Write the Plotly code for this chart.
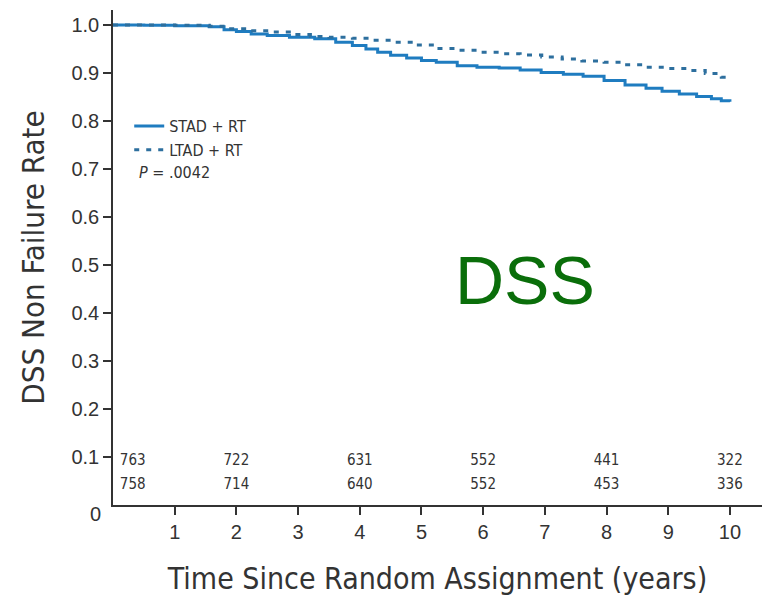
import plotly.graph_objects as go

# ---- data ----
stad_t = [0, 0.5, 1.0, 1.56, 1.8, 2.0, 2.24, 2.5, 2.86, 3.27, 3.61, 3.88, 4.1, 4.29, 4.5, 4.76,
          5.0, 5.24, 5.58, 5.9, 6.26, 6.6, 6.94, 7.3, 7.62, 7.96, 8.3, 8.64, 8.9, 9.18, 9.46,
          9.7, 9.86, 10.0]
stad_v = [1.0, 0.999, 0.998, 0.996, 0.99, 0.986, 0.981, 0.978, 0.974, 0.971, 0.964, 0.957, 0.950,
          0.943, 0.937, 0.931, 0.926, 0.922, 0.915, 0.912, 0.910, 0.906, 0.901, 0.897, 0.893,
          0.884, 0.875, 0.868, 0.862, 0.856, 0.851, 0.846, 0.842, 0.840]
ltad_t = [0, 0.5, 1.0, 1.56, 1.84, 2.2, 2.52, 2.9, 3.2, 3.5, 3.88, 4.2, 4.56, 4.9, 5.24, 5.6,
          5.92, 6.3, 6.6, 6.95, 7.28, 7.6, 7.96, 8.3, 8.64, 9.0, 9.32, 9.6, 9.86, 10.0]
ltad_v = [1.0, 1.0, 0.999, 0.997, 0.992, 0.988, 0.985, 0.980, 0.976, 0.974, 0.972, 0.968, 0.964,
          0.958, 0.951, 0.947, 0.943, 0.940, 0.9375, 0.933, 0.929, 0.925, 0.922, 0.917, 0.912,
          0.909, 0.905, 0.899, 0.891, 0.887]

risk_times = [0.32, 2, 4, 6, 8, 10]
risk_stad = [763, 722, 631, 552, 441, 322]
risk_ltad = [758, 714, 640, 552, 453, 336]

x_ticks = [1, 2, 3, 4, 5, 6, 7, 8, 9, 10]
y_ticks = [0.1, 0.2, 0.3, 0.4, 0.5, 0.6, 0.7, 0.8, 0.9, 1.0]
y_ticklabels = ["0.1", "0.2", "0.3", "0.4", "0.5", "0.6", "0.7", "0.8", "0.9", "1.0"]

BLUE = "#1f7cc0"
DASHBLUE = "#2d6f9e"
TXT = "#333333"
NARROW = "DejaVu Sans Condensed, Liberation Sans Narrow, Liberation Sans, sans-serif"
SANS = "Liberation Sans, Arial, sans-serif"

fig = go.Figure()
fig.add_trace(go.Scatter(x=stad_t, y=stad_v, mode="lines", line=dict(color=BLUE, width=3, shape="hv"),
                         name="STAD + RT"))
fig.add_trace(go.Scatter(x=ltad_t, y=ltad_v, mode="lines",
                         line=dict(color=DASHBLUE, width=3, shape="hv", dash="5px,7px"),
                         name="LTAD + RT"))
fig.add_trace(go.Scatter(x=risk_times, y=[0.092] * len(risk_times), mode="text",
                         text=[str(v) for v in risk_stad], textfont=dict(family=NARROW, size=15, color=TXT),
                         showlegend=False, hoverinfo="skip"))
fig.add_trace(go.Scatter(x=risk_times, y=[0.042] * len(risk_times), mode="text",
                         text=[str(v) for v in risk_ltad], textfont=dict(family=NARROW, size=15, color=TXT),
                         showlegend=False, hoverinfo="skip"))

fig.update_layout(
    width=762, height=599,
    margin=dict(l=113, r=0, t=10, b=94),
    paper_bgcolor="white", plot_bgcolor="white",
    showlegend=True,
    legend=dict(x=0.025, y=0.80, xanchor="left", yanchor="top", itemwidth=30,
                font=dict(family=NARROW, size=16, color=TXT), tracegroupgap=0,
                bgcolor="rgba(0,0,0,0)"),
    xaxis=dict(range=[0, 10.52], tickvals=x_ticks, ticks="outside", ticklen=8, tickwidth=1.5,
               tickcolor=TXT, showline=True, linecolor=TXT, linewidth=1.5, showgrid=False,
               zeroline=False, tickfont=dict(family=SANS, size=20, color=TXT),
               title=dict(text="Time Since Random Assignment (years)",
                          font=dict(family=NARROW, size=30, color=TXT), standoff=26)),
    yaxis=dict(range=[0, 1.031], tickvals=y_ticks, ticktext=y_ticklabels, ticks="outside", ticklen=8,
               tickwidth=1.5, tickcolor=TXT, showline=True, linecolor=TXT, linewidth=1.5,
               showgrid=False, zeroline=False,
               tickfont=dict(family=SANS, size=20, color=TXT),
               title=dict(text="DSS Non Failure Rate", font=dict(family=NARROW, size=31, color=TXT),
                          standoff=18)),
    annotations=[
        dict(text="<i>P</i> = .0042", x=0.037, y=0.672, xref="paper", yref="paper", xanchor="left",
             yanchor="middle", showarrow=False, font=dict(family=NARROW, size=16, color=TXT)),
        dict(text="0", x=88, y=527, xref="paper", yref="paper", showarrow=False,
             font=dict(family=SANS, size=20, color=TXT)),
        dict(text="DSS", x=0.635, y=0.455, xref="paper", yref="paper", showarrow=False,
             font=dict(family=SANS, size=68, color="#0a6e0a")),
    ],
)
# "0" label placed in paper coords derived from pixel position
fig.layout.annotations[1].update(x=(88 - 113) / (762 - 113), y=-(527 - 505) / (505 - 10))

fig.write_html("out.html")
